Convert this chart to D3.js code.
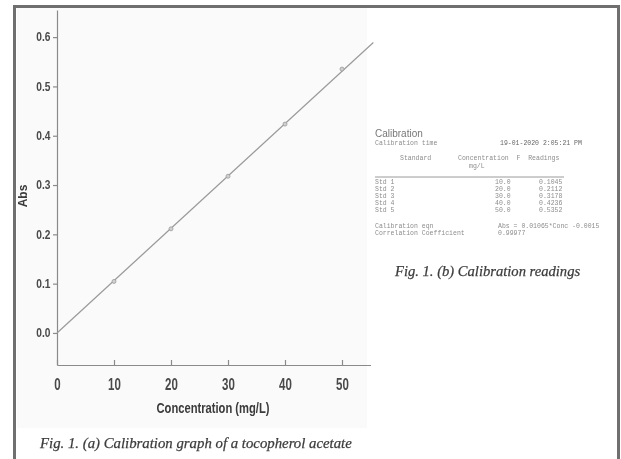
<!DOCTYPE html>
<meta charset="utf-8">
<style>
body { margin: 0; background: #fff; }
svg { display: block; }
.axis path, .axis line { stroke: #8a8a8a; stroke-width: 1.2px; }
.axis text {
	font-family: "Liberation Sans Narrow", "Arial Narrow", "Liberation Sans", sans-serif;
	font-weight: bold;
	fill: #4a4a4a;
}
.ttl {
	font-family: "Liberation Sans Narrow", "Arial Narrow", "Liberation Sans", sans-serif;
	font-weight: bold;
	fill: #3a3a3a;
}
.cap {
	font-family: "Liberation Serif", "DejaVu Serif", serif;
	font-style: italic;
	fill: #3c3c3c;
	stroke: #3c3c3c;
	stroke-width: 0.25px;
}
.tbl text {
	font-family: "Liberation Mono", "DejaVu Sans Mono", monospace;
	font-size: 6.5px;
	fill: #8c8c8c;
	white-space: pre;
}
</style>
<svg width="621" height="459"></svg>
<script src="https://cdnjs.cloudflare.com/ajax/libs/d3/7.8.5/d3.min.js"></script>
<script>
// values
var concentrations = [10, 20, 30, 40, 50];
var readings = [0.1045, 0.2112, 0.3178, 0.4236, 0.5352];
var stdNames = ["Std 1", "Std 2", "Std 3", "Std 4", "Std 5"];
var xTicks = [0, 10, 20, 30, 40, 50];
var yTicks = [0.0, 0.1, 0.2, 0.3, 0.4, 0.5, 0.6];
var fitConc = [0, 55.5];
var fitAbs = [0.0, 0.589];
var calTime = "19-01-2020 2:05:21 PM";
var calEqn = "Abs = 0.01065*Conc -0.0015";
var corrCoef = "0.99977";

var svg = d3.select("svg");

var blur = svg.append("defs").append("filter").attr("id", "soft");
blur.append("feGaussianBlur").attr("stdDeviation", 0.45);

// frame + scanned background
svg.append("rect").attr("x", 17).attr("y", 8).attr("width", 350).attr("height", 420)
	.attr("fill", "#fafafa");
svg.append("path")
	.attr("d", "M14.5,470V6.5H618.5V470")
	.attr("fill", "none").attr("stroke", "#6f6f6f").attr("stroke-width", 3);

var x = d3.scaleLinear().domain([0, 55]).range([57, 370.5]);
var y = d3.scaleLinear().domain([-0.065, 0.655]).range([365, 10]);

var plot = svg.append("g").attr("filter", "url(#soft)");

// narrow font is missing, so squeeze the labels sideways
plot.append("g")
	.attr("class", "axis")
	.attr("transform", "translate(0,365)")
	.call(d3.axisBottom(x).tickValues(xTicks).tickSizeInner(-5).tickSizeOuter(0).tickPadding(14))
	.selectAll("text")
	.style("font-size", "16px")
	.attr("transform", "scale(0.72,1)");

plot.append("g")
	.attr("class", "axis")
	.attr("transform", "translate(57,0)")
	.call(d3.axisLeft(y).tickValues(yTicks).tickSizeInner(4).tickSizeOuter(0).tickPadding(3)
		.tickFormat(d3.format(".1f")))
	.selectAll("text")
	.style("font-size", "12px")
	.attr("x", -6.5 / 0.85)
	.attr("transform", "scale(0.85,1)");

plot.append("path")
	.datum(d3.zip(fitConc, fitAbs))
	.attr("fill", "none")
	.attr("stroke", "#9a9a9a")
	.attr("stroke-width", 1.2)
	.attr("d", d3.line().x(function(d) { return x(d[0]); }).y(function(d) { return y(d[1]); }));

plot.selectAll("circle.pt")
	.data(d3.zip(concentrations, readings))
	.enter().append("circle")
	.attr("class", "pt")
	.attr("cx", function(d) { return x(d[0]); })
	.attr("cy", function(d) { return y(d[1]); })
	.attr("r", 2)
	.attr("fill", "#d0d0d0")
	.attr("stroke", "#9a9a9a")
	.attr("stroke-width", 0.8);

plot.append("text").attr("class", "ttl")
	.attr("transform", "translate(213,413) scale(0.8,1)")
	.attr("text-anchor", "middle")
	.style("font-size", "14px")
	.text("Concentration (mg/L)");

plot.append("text").attr("class", "ttl")
	.attr("transform", "translate(27,196) rotate(-90)")
	.attr("text-anchor", "middle")
	.style("font-size", "12px")
	.text("Abs");

plot.append("text").attr("class", "cap")
	.attr("x", 40).attr("y", 448)
	.style("font-size", "14.8px")
	.text("Fig. 1. (a) Calibration graph of a tocopherol acetate");

// calibration readings printout
var tbl = svg.append("g").attr("class", "tbl").attr("filter", "url(#soft)");

tbl.append("text").attr("x", 375).attr("y", 137)
	.style("font-family", "Liberation Sans, sans-serif").style("font-size", "10px").style("fill", "#777")
	.text("Calibration");
tbl.append("text").attr("x", 375).attr("y", 145).text("Calibration time");
tbl.append("text").attr("x", 500).attr("y", 145).style("fill", "#666").text(calTime);
tbl.append("text").attr("x", 400).attr("y", 160).text("Standard");
tbl.append("text").attr("x", 458).attr("y", 160).text("Concentration  F  Readings");
tbl.append("text").attr("x", 469).attr("y", 168).text("mg/L");
tbl.append("line").attr("x1", 375).attr("x2", 564).attr("y1", 177).attr("y2", 177)
	.attr("stroke", "#9a9a9a").attr("stroke-width", 1);

var rows = tbl.selectAll("g.row")
	.data(d3.range(stdNames.length))
	.enter().append("g").attr("class", "row")
	.attr("transform", function(i) { return "translate(0," + (184 + i * 7) + ")"; });
rows.append("text").attr("x", 375).text(function(i) { return stdNames[i]; });
rows.append("text").attr("x", 495).text(function(i) { return concentrations[i].toFixed(1); });
rows.append("text").attr("x", 539).text(function(i) { return readings[i].toFixed(4); });

tbl.append("text").attr("x", 375).attr("y", 228).text("Calibration eqn");
tbl.append("text").attr("x", 498).attr("y", 228).text(calEqn);
tbl.append("text").attr("x", 375).attr("y", 235).text("Correlation Coefficient");
tbl.append("text").attr("x", 498).attr("y", 235).text(corrCoef);

svg.append("text").attr("class", "cap")
	.attr("x", 395).attr("y", 276)
	.attr("filter", "url(#soft)")
	.style("font-size", "14.6px")
	.text("Fig. 1. (b) Calibration readings");
</script>
